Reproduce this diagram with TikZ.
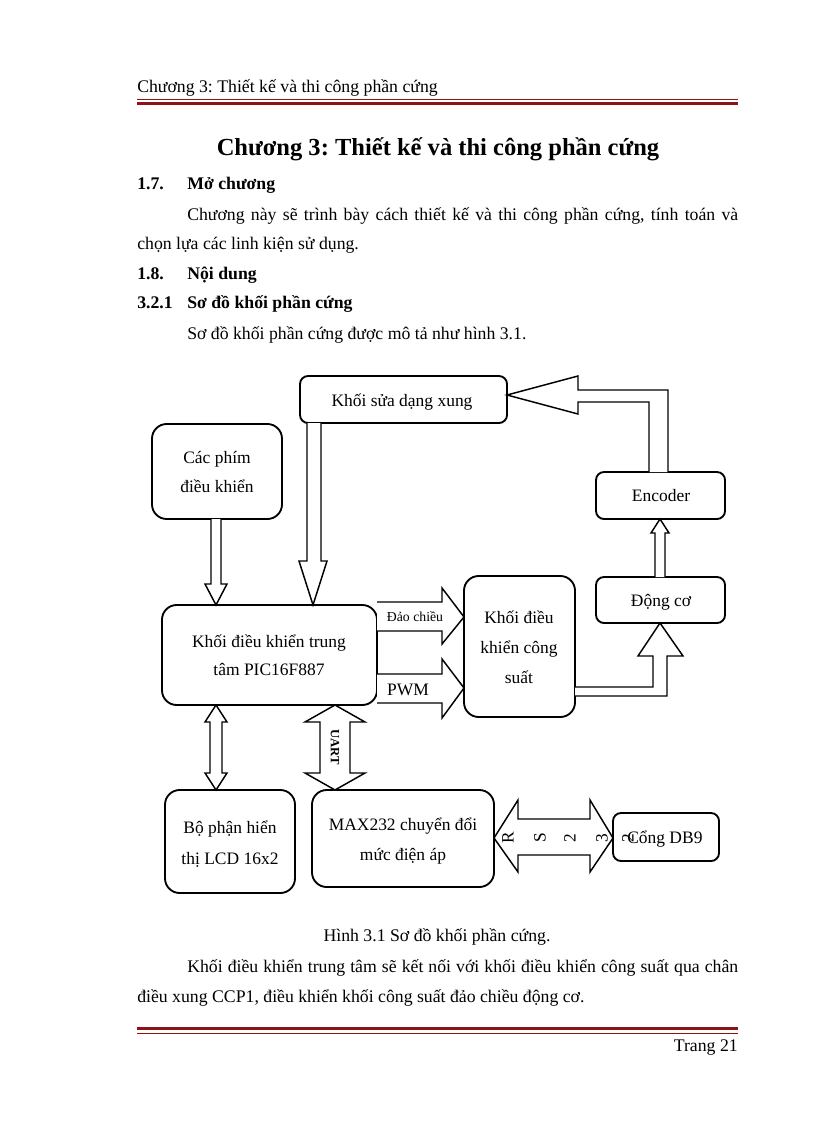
\documentclass[tikz,border=0pt]{standalone}
\usepackage{fontspec}
\setmainfont{Liberation Serif}
\definecolor{barred}{RGB}{140,20,25}
\frenchspacing
\begin{document}
\begin{tikzpicture}[x=0.75pt,y=-0.75pt,
  box/.style={draw, fill=white, line width=1.4pt, inner sep=0pt, outer sep=0pt},
  sbox/.style={box, rounded corners=6pt},
  lbox/.style={box, rounded corners=11pt},
  barrow/.style={draw, fill=white, line width=1.1pt, line join=miter},
  dtxt/.style={anchor=base, inner sep=0pt, font=\fontsize{13.1pt}{15pt}\selectfont},
  ptxt/.style={anchor=base west, inner sep=0pt, font=\fontsize{13.3pt}{15pt}\selectfont},
  btxt/.style={anchor=base west, inner sep=0pt, font=\bfseries\fontsize{13.3pt}{15pt}\selectfont},
  rsl/.style={inner sep=0pt, rotate=90, font=\fontsize{13pt}{15pt}\selectfont},
  hline/.style={draw=barred}
]
\useasboundingbox[fill=white] (0,0) rectangle (816,1123);

% ---------- page text ----------
\node[ptxt] (hdr) at (137,93) {Chương 3: Thiết kế và thi công phần cứng};
\draw[hline, line width=0.75pt] (137,100) -- (738,100);
\draw[hline, line width=2.25pt] (137,103.5) -- (738,103.5);

\node[anchor=base, inner sep=0pt, font=\bfseries\fontsize{18.4pt}{20pt}\selectfont] (title) at (438,156) {Chương 3: Thiết kế và thi công phần cứng};
\node[btxt] (s17n) at (137,190) {1.7.};
\node[btxt] (s17) at (187,190) {Mở chương};
\node[ptxt] (p1) at (187,220) {\hbox to 413.25pt{Chương này sẽ trình bày cách thiết kế và thi công phần cứng, tính toán và}};
\node[ptxt] (p2) at (137,249) {chọn lựa các linh kiện sử dụng.};
\node[btxt] (s18n) at (137,279) {1.8.};
\node[btxt] (s18) at (187,279) {Nội dung};
\node[btxt] (s321n) at (137,308) {3.2.1};
\node[btxt] (s321) at (187,308) {Sơ đồ khối phần cứng};
\node[ptxt] (p3) at (187,339) {Sơ đồ khối phần cứng được mô tả như hình 3.1.};

\node[ptxt, anchor=base] (cap) at (437,941) {Hình 3.1 Sơ đồ khối phần cứng.};
\node[ptxt] (p4) at (187,972) {\hbox to 413.25pt{Khối điều khiển trung tâm sẽ kết nối với khối điều khiển công suất qua chân}};
\node[ptxt] (p5) at (137,1002) {điều xung CCP1, điều khiển khối công suất đảo chiều động cơ.};
\draw[hline, line width=2.25pt] (137,1028.5) -- (738,1028.5);
\draw[hline, line width=0.75pt] (137,1033) -- (738,1033);
\node[ptxt, anchor=base east] (page) at (738,1051) {Trang 21};

% ---------- boxes ----------
\node[sbox, minimum width=155.25pt, minimum height=35.25pt] (shaper) at (403.5,399.5) {};
\node[sbox, minimum width=96.75pt, minimum height=35.25pt] (enc) at (660.5,495.5) {};
\node[lbox, minimum width=97.5pt, minimum height=71.25pt] (keys) at (217,471.5) {};
\node[lbox, minimum width=161.25pt, minimum height=75pt] (pic) at (269.5,655) {};
\node[lbox, minimum width=83.25pt, minimum height=105.75pt] (power) at (519.5,646.5) {};
\node[sbox, minimum width=96.75pt, minimum height=34.5pt] (motor) at (660.5,600) {};
\node[lbox, minimum width=97.5pt, minimum height=77.25pt] (lcd) at (230,841.5) {};
\node[lbox, minimum width=136.5pt, minimum height=72.75pt] (max) at (403,838.5) {};
\node[sbox, minimum width=79.5pt, minimum height=36pt] (db9) at (666,837) {};

% ---------- box texts ----------
\node[dtxt] (tshaper) at (402,406) {Khối sửa dạng xung};
\node[dtxt] (tenc) at (661,501) {Encoder};
\node[dtxt] (tkeys1) at (217,463) {Các phím};
\node[dtxt] (tkeys2) at (217,492) {điều khiển};
\node[dtxt] (tpic1) at (269,647) {Khối điều khiển trung};
\node[dtxt] (tpic2) at (269,675) {tâm PIC16F887};
\node[dtxt] (tpow1) at (519,623) {Khối điều};
\node[dtxt] (tpow2) at (519,653) {khiển công};
\node[dtxt] (tpow3) at (519,683) {suất};
\node[dtxt] (tmotor) at (661,606) {Động cơ};
\node[dtxt] (tlcd1) at (230,833) {Bộ phận hiển};
\node[dtxt] (tlcd2) at (230,864) {thị LCD 16x2};
\node[dtxt] (tmax1) at (403,830) {MAX232 chuyển đổi};
\node[dtxt] (tmax2) at (403,860) {mức điện áp};

% ---------- block arrows ----------
% keys -> pic
\draw[barrow] (211,0 |- keys.south) -- (211,584) -- (205,584) -- (216,0 |- pic.north) -- (227,584) -- (221,584) -- (221,0 |- keys.south);
% shaper -> pic
\draw[barrow] (307,0 |- shaper.south) -- (307,561) -- (299,561) -- (313,0 |- pic.north) -- (327,561) -- (321,561) -- (321,0 |- shaper.south);
% encoder -> shaper
\draw[barrow] (649,0 |- enc.north) -- (649,402) -- (578,402) -- (578,414) -- (shaper.east |- 0,395) -- (578,376) -- (578,390) -- (668,390) -- (668,0 |- enc.north);
% motor -> encoder
\draw[barrow] (655,0 |- motor.north) -- (655,533) -- (651,533) -- (660,0 |- enc.south) -- (669,533) -- (665,533) -- (665,0 |- motor.north);
% power -> motor
\draw[barrow] (power.east |- 0,687) -- (653,687) -- (653,656) -- (638,656) -- (660,0 |- motor.south) -- (683,656) -- (667,656) -- (667,696) -- (power.east |- 0,696);
% pic -> power (Dao chieu)
\draw[barrow] (pic.east |- 0,602) -- (442,602) -- (442,588) -- (power.west |- 0,617) -- (442,644) -- (442,631) -- (pic.east |- 0,631);
% pic -> power (PWM)
\draw[barrow] (pic.east |- 0,674) -- (442,674) -- (442,659) -- (power.west |- 0,688) -- (442,718) -- (442,703) -- (pic.east |- 0,703);
% pic <-> lcd
\draw[barrow] (216,0 |- pic.south) -- (227,722) -- (222,722) -- (222,773) -- (227,773) -- (216,0 |- lcd.north) -- (205,773) -- (210,773) -- (210,722) -- (205,722) -- cycle;
% pic <-> max (UART)
\draw[barrow] (335,0 |- pic.south) -- (365,722) -- (350,722) -- (350,773) -- (365,773) -- (335,0 |- max.north) -- (305,773) -- (320,773) -- (320,722) -- (305,722) -- cycle;
% max <-> db9 (RS232)
\draw[barrow] (max.east |- 0,838) -- (518,800) -- (518,819) -- (590,819) -- (590,800) -- (db9.west |- 0,838) -- (590,872) -- (590,855) -- (518,855) -- (518,872) -- cycle;

% ---------- arrow labels ----------
\node[anchor=base, inner sep=0pt, font=\fontsize{10.3pt}{12pt}\selectfont] (ldao) at (415,621) {Đảo chiều};
\node[dtxt] (lpwm) at (408,695) {PWM};
\node[inner sep=0pt, rotate=-90, font=\bfseries\fontsize{9.5pt}{11pt}\selectfont] (luart) at (335,747) {UART};
\node[rsl] (rs1) at (508,838) {R};
\node[rsl] (rs2) at (540,838) {S};
\node[rsl] (rs3) at (570,838) {2};
\node[rsl] (rs4) at (602,838) {3};
\node[dtxt, anchor=base west] (tdb9) at (627,843) {Cổng DB9};
\node[rsl] (rs5) at (628,838) {2};
\end{tikzpicture}
\end{document}
